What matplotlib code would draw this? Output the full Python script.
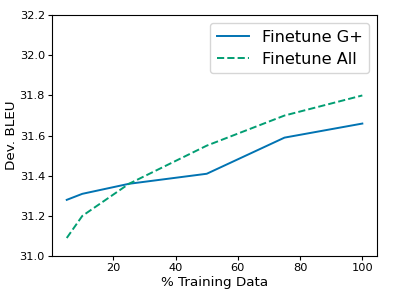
import matplotlib

matplotlib.use("Agg")

import matplotlib.pyplot as plt

percent_data = [5, 10, 25, 50, 75, 100]
bleu_g_plus = [31.28, 31.31, 31.36, 31.41, 31.59, 31.66]
bleu_all = [31.09, 31.20, 31.36, 31.55, 31.70, 31.80]

fig, ax = plt.subplots(figsize=(4.19, 2.91), dpi=100)
fig.subplots_adjust(left=0.124, right=0.9, top=0.948, bottom=0.12)

ax.plot(percent_data, bleu_g_plus, color="#0173B2", linewidth=1.4, label="Finetune G+")
ax.plot(percent_data, bleu_all, color="#029E73", linewidth=1.4, linestyle="--", label="Finetune All")

ax.set_ylim(31.0, 32.2)
ax.set_yticks([31.0, 31.2, 31.4, 31.6, 31.8, 32.0, 32.2])
ax.set_xticks([20, 40, 60, 80, 100])
ax.tick_params(labelsize=8.2, length=3, pad=2)
ax.set_xlabel("% Training Data", fontsize=9.7, labelpad=2)
ax.set_ylabel("Dev. BLEU", fontsize=9.7, labelpad=1.5)
ax.legend(loc="upper right", fontsize=11.6, labelspacing=0.45)

fig.savefig("out.png", dpi=100)
